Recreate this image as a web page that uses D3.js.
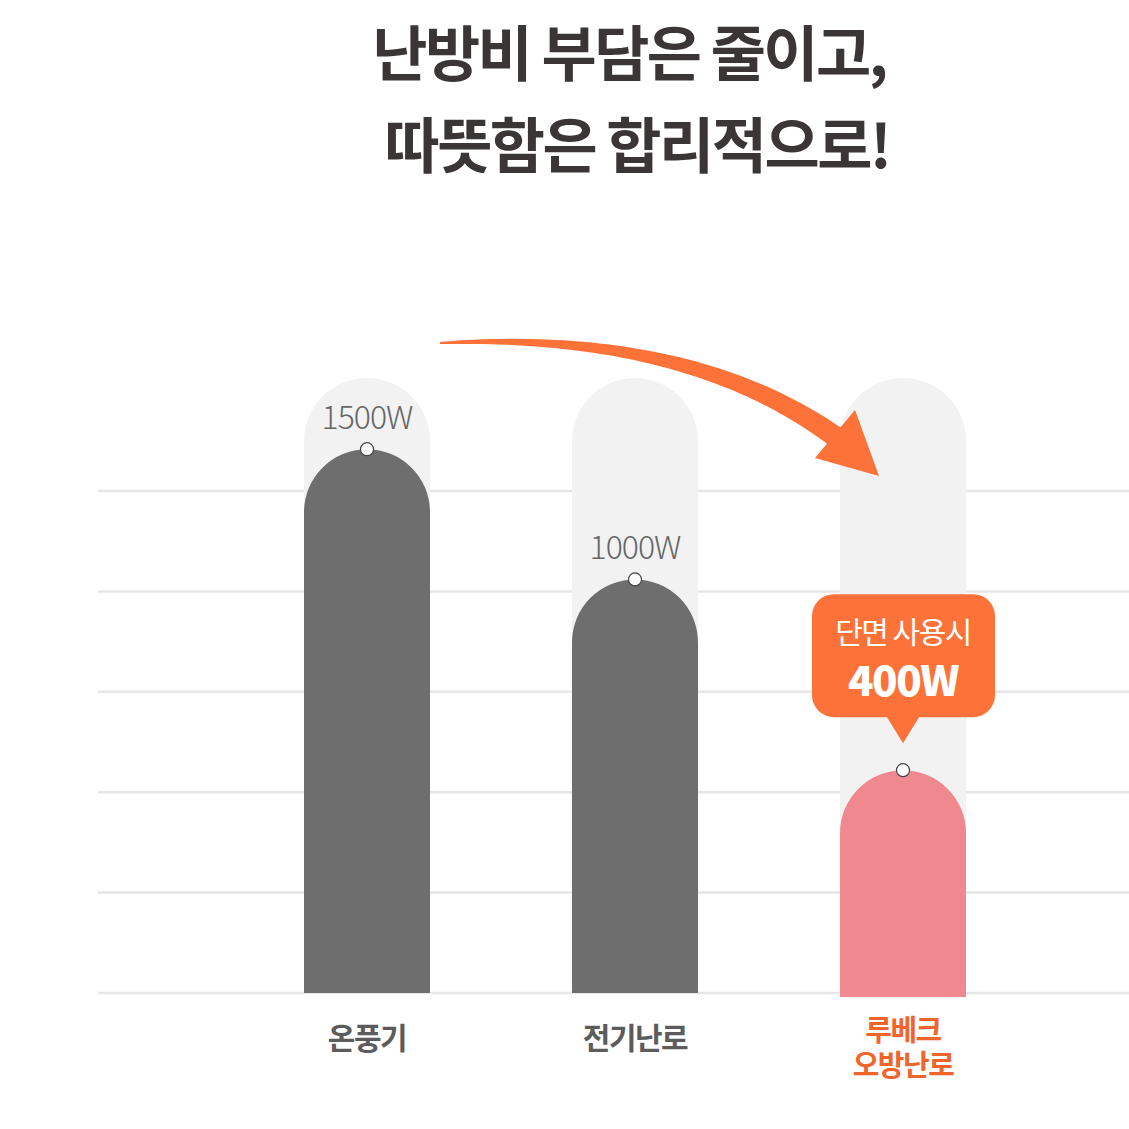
<!DOCTYPE html>
<html>
<head>
<meta charset="utf-8">
<script src="https://cdn.jsdelivr.net/npm/d3@7"></script>
<style>
  html, body { margin: 0; padding: 0; background: #fff; }
  svg { display: block; }
</style>
</head>
<body>
<svg width="1129" height="1129"></svg>
<script>
const categories = ['온풍기', '전기난로', '루베크 오방난로'];
const watts = [1500, 1000, 400];
const labels = ['1500W', '1000W', '400W'];
const highlight = [false, false, true];
const trackMax = 1800;
const titleLines = ['난방비 부담은 줄이고,', '따뜻함은 합리적으로!'];
const calloutLines = ['단면 사용시', '400W'];
const gridCount = 5;

const svg = d3.select('svg');
const width = 1129;
const baseline = 993;
const barW = 126;
const font = '"Noto Sans CJK KR", "Noto Sans", sans-serif';
// latin primary font keeps the line box compact, hangul falls back to CJK
const compactFont = '"Liberation Sans", "Noto Sans CJK KR", sans-serif';

const x = d3.scalePoint().domain(categories).range([367, 903]);
// visual scale is compressed (not proportional) in the original graphic
const y = d3.scalePow().exponent(0.675).domain([0, trackMax]).range([baseline, 378]);
const grid = d3.scaleLinear().domain([0, gridCount]).range([baseline, 491]);

// title
svg.selectAll('text.title')
  .data(titleLines)
  .join('text')
  .attr('class', 'title')
  .attr('x', (d, i) => (i === 0 ? 629 : 637))
  .attr('y', (d, i) => 76 + i * 92)
  .attr('text-anchor', 'middle')
  .attr('font-family', font)
  .attr('font-weight', 700)
  .attr('font-size', 60)
  .attr('letter-spacing', -2.5)
  .attr('fill', '#3a3636')
  .text(d => d);

// gridlines
svg.selectAll('line.grid')
  .data(d3.range(gridCount + 1))
  .join('line')
  .attr('class', 'grid')
  .attr('x1', 98)
  .attr('x2', width)
  .attr('y1', d => grid(d))
  .attr('y2', d => grid(d))
  .attr('stroke', '#e6e6e6')
  .attr('stroke-width', 2.5);

function pill(cx, top, bottom) {
  const r = barW / 2;
  const p = d3.path();
  p.moveTo(cx - r, bottom);
  p.lineTo(cx - r, top + r);
  p.arc(cx, top + r, r, Math.PI, 0);
  p.lineTo(cx + r, bottom);
  p.closePath();
  return p.toString();
}

// background tracks
svg.selectAll('path.track')
  .data(categories)
  .join('path')
  .attr('class', 'track')
  .attr('d', d => pill(x(d), y(trackMax), baseline))
  .attr('fill', '#f2f2f2');

// bars
svg.selectAll('path.bar')
  .data(categories)
  .join('path')
  .attr('class', 'bar')
  .attr('d', (d, i) => pill(x(d), y(watts[i]), baseline + (highlight[i] ? 4 : 0)))
  .attr('fill', (d, i) => (highlight[i] ? '#f08890' : '#6e6e6e'));

// dots
svg.selectAll('circle.dot')
  .data(categories)
  .join('circle')
  .attr('class', 'dot')
  .attr('cx', d => x(d))
  .attr('cy', (d, i) => y(watts[i]))
  .attr('r', 6.5)
  .attr('fill', '#fff')
  .attr('stroke', '#444')
  .attr('stroke-width', 1.2);

// value labels (non highlighted)
svg.selectAll('text.value')
  .data(categories.filter((d, i) => !highlight[i]))
  .join('text')
  .attr('class', 'value')
  .attr('x', d => x(d))
  .attr('y', d => y(watts[categories.indexOf(d)]) - 20)
  .attr('text-anchor', 'middle')
  .attr('font-family', font)
  .attr('font-weight', 300)
  .attr('font-size', 32)
  .attr('letter-spacing', -1)
  .attr('fill', '#666')
  .text(d => labels[categories.indexOf(d)]);

// callout bubble for highlighted bar
const hi = highlight.indexOf(true);
const hx = x(categories[hi]);
const hy = y(watts[hi]);
const bubble = d3.path();
const bx0 = hx - 91, bx1 = hx + 92, by0 = hy - 176, by1 = hy - 53, br = 22;
bubble.moveTo(bx0 + br, by0);
bubble.lineTo(bx1 - br, by0);
bubble.arcTo(bx1, by0, bx1, by0 + br, br);
bubble.lineTo(bx1, by1 - br);
bubble.arcTo(bx1, by1, bx1 - br, by1, br);
bubble.lineTo(hx + 16, by1);
bubble.lineTo(hx, by1 + 26);
bubble.lineTo(hx - 16, by1);
bubble.lineTo(bx0 + br, by1);
bubble.arcTo(bx0, by1, bx0, by1 - br, br);
bubble.lineTo(bx0, by0 + br);
bubble.arcTo(bx0, by0, bx0 + br, by0, br);
bubble.closePath();
svg.append('path')
  .attr('d', bubble.toString())
  .attr('fill', '#fd7238');

svg.append('text')
  .attr('x', hx)
  .attr('y', by0 + 49)
  .attr('text-anchor', 'middle')
  .attr('font-family', font)
  .attr('font-weight', 400)
  .attr('font-size', 30)
  .attr('letter-spacing', -1.5)
  .attr('fill', '#fff')
  .text(calloutLines[0]);

svg.append('text')
  .attr('x', hx)
  .attr('y', by0 + 102)
  .attr('text-anchor', 'middle')
  .attr('font-family', font)
  .attr('font-weight', 800)
  .attr('font-size', 42)
  .attr('letter-spacing', -1.5)
  .attr('fill', '#fff')
  .text(calloutLines[1]);

// category labels
categories.forEach((c, i) => {
  const parts = highlight[i] ? c.split(' ') : [c];
  const startY = highlight[i] ? 1041 : 1049;
  parts.forEach((part, j) => {
    svg.append('text')
      .attr('x', x(c))
      .attr('y', startY + j * 35)
      .attr('text-anchor', 'middle')
      .attr('font-family', highlight[i] ? compactFont : font)
      .attr('font-weight', 700)
      .attr('font-size', highlight[i] ? 29 : 30)
      .attr('letter-spacing', -1.5)
      .attr('fill', highlight[i] ? '#f0652c' : '#5c5c5c')
      .text(part);
  });
});

// curved arrow from first bar to highlighted bar
const ax0 = x(categories[0]) + 73, ay0 = 343;
const ax1 = hx - 54, ay1 = 447;
const cxp = 700, cyp = 330;
const n = 60;
const upper = [], lower = [];
for (let k = 0; k <= n; k++) {
  const t = k / n;
  const px = (1 - t) * (1 - t) * ax0 + 2 * (1 - t) * t * cxp + t * t * ax1;
  const py = (1 - t) * (1 - t) * ay0 + 2 * (1 - t) * t * cyp + t * t * ay1;
  const dx = 2 * (1 - t) * (cxp - ax0) + 2 * t * (ax1 - cxp);
  const dy = 2 * (1 - t) * (cyp - ay0) + 2 * t * (ay1 - cyp);
  const len = Math.hypot(dx, dy);
  const w = 1 + 10 * Math.pow(t, 0.8);
  upper.push([px - (dy / len) * w, py + (dx / len) * w]);
  lower.push([px + (dy / len) * w, py - (dx / len) * w]);
}
svg.append('path')
  .attr('d', d3.line()(upper.concat(lower.reverse())) + 'Z')
  .attr('fill', '#fd7238');

svg.append('path')
  .attr('d', d3.line()([[hx - 48, 410], [hx - 88, 458], [hx - 24, 476]]) + 'Z')
  .attr('fill', '#fd7238');
</script>
</body>
</html>
